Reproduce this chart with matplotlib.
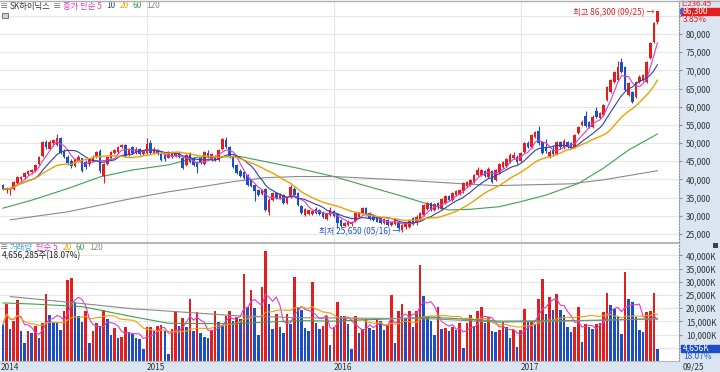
import numpy as np
import pandas as pd
import matplotlib
matplotlib.use("Agg")
import matplotlib.pyplot as plt
from matplotlib.patches import Rectangle

plt.rcParams["font.family"] = ["Noto Sans CJK KR", "DejaVu Sans"]

# 주봉 시가/고가/저가/종가 (원), 2014-03-31 ~ 2017-09-25
opens = [
    38400, 37000, 37000, 37400, 39100, 40200, 40600, 41500, 42000, 42400,
    44200, 46500, 50200, 48500, 50000, 49600, 51300, 47800, 46300, 45200,
    43800, 45200, 45800, 44800, 44200, 45200, 46200, 47800, 41000, 44200,
    46000, 47200, 47600, 49000, 49400, 46700, 48800, 47300, 48400, 47100,
    # 2015
    47400, 50000, 47300, 48200, 47200, 46800, 46000, 47600, 46400, 47200,
    45800, 44000, 47200, 45800, 44800, 45800, 44200, 47400, 45300, 46500,
    45400, 48300, 50800, 49000, 46300, 44000, 42400, 42000, 41200, 39800,
    38500, 37100, 35900, 37300, 31000, 34300, 36200, 35000, 35800, 33500,
    35300, 37500, 36200, 32700, 30300, 30500, 30400, 32000, 31600, 31100,
    29100, 30300,
    # 2016
    31200, 30500, 28800, 27200, 27600, 27800, 28500, 29700, 30700, 32200,
    30700, 30200, 29700, 29300, 28000, 28800, 27400, 27800, 28400, 26000,
    26800, 27000, 29300, 27900, 28900, 30200, 32000, 33400, 31600, 33500,
    32000, 33600, 35400, 34300, 35800, 36000, 36700, 38200, 38500, 39400,
    41200, 41300, 42400, 40800, 42400, 39800, 41700, 43500, 43700, 44900,
    45900, 46300,
    # 2017
    45200, 47600, 50100, 48900, 51600, 53200, 50400, 48800, 46300, 48000,
    47000, 50400, 48800, 50300, 49900, 49000, 52700, 54900, 57400, 55900,
    54500, 58800, 56800, 57700, 61800, 64100, 66900, 67400, 72400, 71000,
    63200, 64100, 62800, 66900, 67400, 66900, 73300, 77900, 83400,
]
highs = [
    38700, 37900, 37800, 39600, 41000, 41000, 42000, 42600, 43000, 44300,
    46500, 50600, 50900, 50800, 51200, 52400, 51600, 48300, 46600, 45600,
    46000, 46600, 46000, 45300, 46000, 46600, 47900, 48500, 44600, 46500,
    47900, 48400, 49300, 49800, 49700, 48700, 49100, 48800, 48700, 48000,
    51300, 50800, 48800, 48500, 47500, 47100, 47900, 47900, 47600, 47500,
    46200, 47000, 47500, 46100, 45100, 46200, 47900, 48000, 47200, 46800,
    48300, 51500, 51800, 49300, 46600, 44300, 42800, 42300, 41500, 40200,
    38800, 37400, 37500, 37600, 34800, 36500, 36500, 36300, 36100, 35100,
    38600, 37800, 36500, 33000, 32100, 31800, 31600, 32300, 31900, 31400,
    30800, 32300,
    31500, 30800, 29100, 28300, 28900, 28600, 31000, 31000, 32400, 32500,
    31000, 30500, 30000, 29600, 29500, 29100, 28400, 29400, 28700, 27700,
    28300, 29000, 29600, 30100, 31000, 33300, 33800, 33700, 33600, 33800,
    34800, 35700, 35700, 36500, 37200, 37500, 39300, 39500, 40200, 41500,
    43500, 43000, 42700, 43300, 42700, 42900, 44600, 45000, 45800, 47200,
    47600, 46600,
    47600, 50400, 50500, 52600, 53400, 54800, 50700, 51200, 48000, 49600,
    50600, 50700, 51000, 50600, 50300, 52500, 54800, 56300, 58700, 56200,
    57600, 60000, 58500, 60800, 65600, 67600, 69900, 72500, 73300, 71300,
    66700, 64400, 67200, 68600, 69100, 72700, 77700, 83400, 86300,
]
lows = [
    37000, 36300, 35600, 37100, 38800, 39500, 40200, 41100, 41500, 42000,
    44000, 46200, 48300, 48100, 49200, 49300, 47000, 45800, 44000, 43200,
    43400, 44800, 42000, 43000, 43800, 44900, 45900, 41900, 39000, 43900,
    45700, 46900, 47300, 48600, 46100, 46400, 47000, 47000, 46800, 46800,
    47100, 47000, 47000, 46600, 45000, 45200, 45800, 46000, 46100, 46000,
    42800, 43800, 44600, 43700, 41700, 44200, 43900, 46000, 45000, 45100,
    45100, 48000, 48700, 46000, 43200, 41400, 40700, 40000, 38200, 37800,
    34000, 35500, 35600, 31300, 30300, 34000, 34700, 34700, 33200, 33200,
    35000, 35400, 32700, 30400, 30000, 30200, 30100, 30600, 30300, 29500,
    28800, 30000,
    29700, 26700, 26900, 27000, 27300, 27200, 28300, 29400, 30400, 30000,
    28800, 28500, 28200, 27700, 27800, 27300, 27200, 27500, 26400, 25650,
    26500, 26700, 27500, 27600, 28600, 30000, 31700, 31400, 31300, 32000,
    31700, 33300, 34000, 34000, 35500, 35700, 36400, 37900, 38200, 39100,
    40900, 41000, 40700, 40500, 39000, 39500, 41400, 43200, 43400, 44600,
    45600, 44300,
    44900, 47300, 48700, 48600, 51300, 49600, 47000, 47400, 46000, 46500,
    46600, 48400, 48500, 48600, 48300, 48700, 52400, 54600, 54300, 54200,
    54200, 57000, 56500, 57400, 61500, 63800, 66600, 67100, 69300, 64300,
    62900, 61100, 62500, 66600, 67100, 66600, 73000, 77600, 82800,
]
closes = [
    37300, 37600, 37500, 39300, 40700, 40600, 41700, 42300, 42600, 44000,
    46200, 50300, 48800, 50400, 50900, 51400, 47300, 46300, 44400, 43600,
    45700, 46300, 42300, 43500, 45700, 46300, 47500, 42200, 44300, 46200,
    47600, 48100, 49000, 49400, 46400, 48500, 47300, 48500, 47100, 47800,
    49800, 47300, 48500, 46900, 45400, 45500, 47600, 46300, 47400, 46300,
    43100, 46700, 44900, 44000, 43500, 44500, 47600, 46300, 46900, 45400,
    48100, 51000, 49000, 46300, 43500, 41700, 41000, 40300, 38500, 38100,
    36700, 35800, 37200, 31600, 34300, 36200, 35000, 36000, 33500, 34800,
    38000, 35700, 33000, 30700, 31800, 31500, 31300, 30900, 30600, 29800,
    30500, 31600,
    30000, 28000, 27200, 27900, 28500, 28300, 30700, 30800, 32100, 30300,
    29100, 28800, 28400, 28000, 29200, 27600, 28200, 29100, 26600, 27500,
    28000, 28800, 27800, 29800, 30700, 33000, 33500, 31700, 33300, 32300,
    34500, 35400, 34300, 36200, 36900, 37200, 38900, 39300, 39900, 41200,
    42600, 42700, 41000, 42800, 39300, 42600, 44300, 44700, 45500, 46700,
    46600, 44700,
    47300, 49900, 49000, 52200, 53000, 50000, 47300, 47700, 47600, 47000,
    50200, 48800, 50600, 49000, 48600, 52200, 54500, 55900, 54600, 54500,
    57300, 57300, 58200, 60500, 65300, 67300, 69600, 71000, 69600, 64600,
    66400, 61400, 66900, 68300, 68800, 72400, 77400, 83100, 86300,
]
# 주간 거래량 (천주)
volumes = [
    13800, 21700, 12200, 15300, 23200, 11500, 6800, 11500, 10500, 13100,
    8600, 14300, 25400, 17500, 14700, 14300, 11800, 18900, 30700, 31400,
    22300, 17200, 14700, 19100, 6800, 11500, 14300, 13100, 19400, 16000,
    9900, 12400, 8600, 9000, 12800, 11100, 10300, 8600, 8400, 4500,
    12800, 13000, 11500, 13300, 13600, 11500, 2700, 12200, 18900, 13100,
    16400, 12800, 23500, 11500, 18700, 10500, 9000, 8600, 11200, 18900,
    14700, 13500, 17200, 19100, 15100, 16600, 16000, 33000, 20400, 27000,
    20100, 9700, 28000, 41500, 21700, 12200, 17800, 12800, 10500, 17800,
    14000, 32000, 20100, 19500, 12400, 11500, 29900, 14300, 12200, 13100,
    17200, 5900,
    12800, 22500, 16900, 17200, 14100, 4600, 17200, 10500, 12200, 16000,
    12600, 11800, 16000, 15300, 11600, 13500, 25100, 6800, 18900, 21700,
    16400, 18900, 12800, 18800, 36400, 24800, 17200, 15300, 9700, 20400,
    12200, 12400, 11200, 12800, 11600, 14300, 5000, 14300, 17600, 13100,
    19100, 20400, 14300, 16600, 11200, 11000, 11600, 14800, 12900, 8800,
    11600, 5300,
    11600, 19800, 14800, 15000, 14100, 23600, 31200, 17900, 24200, 19200,
    25200, 19200, 17300, 12900, 11000, 12900, 20400, 7200, 14100, 12900,
    12200, 14100, 14400, 18500, 25700, 21100, 19800, 16600, 10300, 33700,
    23600, 22300, 16600, 11600, 11000, 18500, 18900, 25770, 4656,
]

year_labels = ["2014", "2015", "2016", "2017"]
year_starts = [0, 40, 92, 144]

# 장기 이동평균
ma60_idx = [0, 8, 18, 27, 36, 46, 54, 66, 73, 82, 92, 100, 110, 119, 124, 130, 138, 144, 151, 160, 167, 174, 182]
ma60_val = [32100, 34300, 37500, 40700, 42600, 44000, 46100, 46300, 44900, 43100, 40800, 38500,
            35700, 33000, 31600, 31800, 32500, 33900, 35700, 38900, 43100, 48100, 52500]
ma120_idx = [2, 18, 36, 46, 54, 64, 73, 82, 92, 110, 128, 137, 158, 167, 182]
ma120_val = [28900, 31100, 34800, 36600, 37800, 39400, 40500, 40800, 40800, 39900, 38800, 38300,
             38800, 39900, 42400]
vma60_idx = [0, 8, 22, 36, 46, 64, 82, 92, 119, 138, 165, 182]
vma60_val = [22000, 21600, 20600, 16800, 14300, 14100, 15300, 15100, 16600, 15100, 15400, 16000]
vma120_idx = [2, 18, 36, 46, 64, 82, 92, 119, 138, 165, 182]
vma120_val = [24400, 22300, 19800, 18900, 17200, 16400, 16300, 16000, 14700, 15400, 16000]

W, H = 720, 372
RED = "#e41e1e"
BLUE = "#1c4fc6"
C5 = "#e03cc8"
C10 = "#2a44b0"
C20 = "#f0a000"
C60 = "#3ea050"
C120 = "#8a8a8a"
STRIP = "#dbe5f1"
GRID = "#e6e6e6"
FS = 6


def box(x0, y0, x1, y1):
    return [x0 / W, 1 - y1 / H, (x1 - x0) / W, (y1 - y0) / H]


def ftxt(x, y, s, **kw):
    kw.setdefault("fontsize", FS)
    kw.setdefault("va", "center")
    return fig.text(x / W, 1 - y / H, s, **kw)


def chain(ax, x, y, parts):
    # 글자 조각을 왼쪽부터 이어 붙인다
    prev = None
    for s, color, gap in parts:
        if prev is None:
            prev = ax.annotate(s, xy=(x / W, 1 - y / H), xycoords="figure fraction",
                               va="center", ha="left", fontsize=FS, color=color,
                               annotation_clip=False, zorder=8)
        else:
            prev = ax.annotate(s, xy=(1, 0.5), xycoords=prev, xytext=(gap, 0),
                               textcoords="offset points", va="center", ha="left",
                               fontsize=FS, color=color, annotation_clip=False, zorder=8)
    return prev


fig = plt.figure(figsize=(W / 100, H / 100), dpi=100)
fig.patches.append(Rectangle((679 / W, 0), 41 / W, 1, transform=fig.transFigure,
                             color=STRIP, zorder=-10))
fig.patches.append(Rectangle((0, 0), 1, 11 / H, transform=fig.transFigure,
                             color=STRIP, zorder=-10))

ax_p = fig.add_axes(box(0, 1, 679, 242))
ax_v = fig.add_axes(box(0, 243, 679, 361))

o = np.array(opens)
h = np.array(highs)
l = np.array(lows)
c = np.array(closes)
v = np.array(volumes)
idx = np.arange(len(c))

# 캔들
cols = np.where(c >= o, RED, BLUE)
ax_p.vlines(idx, l, h, colors=cols, lw=0.8, zorder=3)
body = np.maximum(np.abs(c - o), 150)
ax_p.bar(idx, body, bottom=np.minimum(o, c), width=0.72, color=cols, zorder=3)

cs = pd.Series(c)
ax_p.plot(idx, cs.rolling(5, min_periods=1).mean(), color=C5, lw=0.8, zorder=4)
ax_p.plot(idx, cs.rolling(10, min_periods=1).mean(), color=C10, lw=0.8, zorder=4)
ax_p.plot(idx, cs.rolling(20, min_periods=1).mean(), color=C20, lw=1.0, zorder=4)
ax_p.plot(ma60_idx, ma60_val, color=C60, lw=0.8, zorder=2)
ax_p.plot(ma120_idx, ma120_val, color=C120, lw=0.8, zorder=2)

# 거래량: 직전 주 대비 증가 빨강, 감소 파랑
vcols = [BLUE] + [RED if v[i] > v[i - 1] else BLUE for i in range(1, len(v))]
ax_v.bar(idx, v, width=0.72, color=vcols, zorder=3)
vs = pd.Series(v)
ax_v.plot(idx, vs.rolling(5, min_periods=1).mean(), color=C5, lw=0.8, zorder=4)
ax_v.plot(idx, vs.rolling(20, min_periods=1).mean(), color=C20, lw=0.8, zorder=4)
ax_v.plot(vma60_idx, vma60_val, color=C60, lw=0.8, zorder=4)
ax_v.plot(vma120_idx, vma120_val, color=C120, lw=0.8, zorder=4)

for ax in (ax_p, ax_v):
    ax.set_xlim(-0.83, 188.0)
    for s in ("left", "top", "bottom"):
        ax.spines[s].set_visible(False)
    ax.spines["right"].set_linestyle(":")
    ax.spines["right"].set_color("#909090")
    ax.yaxis.tick_right()
    ax.tick_params(axis="y", length=2, pad=3, labelsize=FS, labelcolor="#333333",
                   color="#909090")
    ax.grid(axis="y", color=GRID, lw=0.8, zorder=0)
    for ys in year_starts[1:]:
        ax.axvline(ys, color=GRID, lw=0.8, zorder=0)

ax_p.set_ylim(22800, 89075)
ax_p.set_yticks(range(25000, 85001, 5000))
ax_p.set_yticklabels([f"{t:,}" if t < 85000 else "" for t in range(25000, 85001, 5000)])
ax_p.set_xticks([])

ax_v.set_ylim(0, 44700)
ax_v.set_yticks(range(5000, 40001, 5000))
ax_v.set_yticklabels([f"{t:,}K" if t >= 10000 else "" for t in range(5000, 40001, 5000)])
ax_v.set_xticks([-0.6] + year_starts[1:])
ax_v.set_xticklabels(year_labels, fontsize=FS, color="#333333")
ax_v.tick_params(axis="x", length=0, pad=1.5)
for lbl in ax_v.get_xticklabels():
    lbl.set_ha("left")

# 구분선
fig.add_artist(plt.Line2D([0, 679 / W], [1 - 242.5 / H] * 2, color="#a8a8a8", lw=1.2))
fig.add_artist(plt.Line2D([0, 1], [1 - 0.5 / H] * 2, color="#b0b0b0", lw=1))
fig.add_artist(plt.Line2D([0, 679 / W], [1 - 361.3 / H] * 2, color="#b8b8b8", lw=0.8))

# 최고/최저 표시
ax_p.text(181.2, 85800, "최고 86,300 (09/25) →", color=RED, fontsize=FS,
          ha="right", va="center", zorder=6)
ax_p.text(110.6, 25700, "최저 25,650 (05/16) →", color=BLUE, fontsize=FS,
          ha="right", va="center", zorder=6)

# 범례
chain(ax_p, 0, 6, [("≡", "#666666", 0), ("SK하이닉스", "#333333", 1.2), ("≡", "#666666", 1.2),
                   ("종가 단순 5", C5, 1.5), ("10", C10, 3), ("20", C20, 3), ("60", C60, 3),
                   ("120", C120, 3)])
fig.patches.append(Rectangle((5 / W, 1 - 10.5 / H), 40 / W, 9 / H, transform=fig.transFigure,
                             fc="#e4e4e4", ec="none", zorder=-5))
fig.patches.append(Rectangle((2 / W, 1 - 18 / H), 6 / W, 5 / H, transform=fig.transFigure,
                             fc="#d0d0d0", ec="#606060", lw=0.6, zorder=5))

chain(ax_v, 0, 247.5, [("≡", "#666666", 0), ("거래량", "#3aa6c8", 1.2), ("단순 5", C5, 2.5),
                       ("20", C20, 3), ("60", C60, 3), ("120", C120, 3)])
ax_v.annotate("4,656,285주(18.07%)", xy=(2 / W, 1 - 256 / H), xycoords="figure fraction",
              va="center", ha="left", fontsize=FS, color="#222222", zorder=8)

# 오른쪽 현재값 표시
ftxt(681, 3.5, "L:236.45", color=RED, fontsize=5.6)
fig.patches.append(Rectangle((681 / W, 1 - 14.5 / H), 38 / W, 7 / H, transform=fig.transFigure,
                             color=RED, zorder=5))
fig.patches.append(Rectangle((679.5 / W, 1 - 12.5 / H), 2 / W, 4 / H, transform=fig.transFigure,
                             color="#3070e0", zorder=6))
ftxt(683, 11, "86,300", color="white", zorder=7)
ftxt(683, 19.5, "3.85%", color=RED)

fig.patches.append(Rectangle((681 / W, 1 - 351.5 / H), 38 / W, 7 / H, transform=fig.transFigure,
                             color=BLUE, zorder=5))
ftxt(683, 348, "4,656K", color="white", zorder=7)
ftxt(683, 356.8, "18.07%", color="#2a5ad8")
ftxt(683, 367, "09/25", color="#333333")

fig.patches.append(Rectangle((713 / W, 1 - 248 / H), 5 / W, 5 / H, transform=fig.transFigure,
                             fc="#404040", ec="none", zorder=5))

fig.savefig("out.png", dpi=100)
